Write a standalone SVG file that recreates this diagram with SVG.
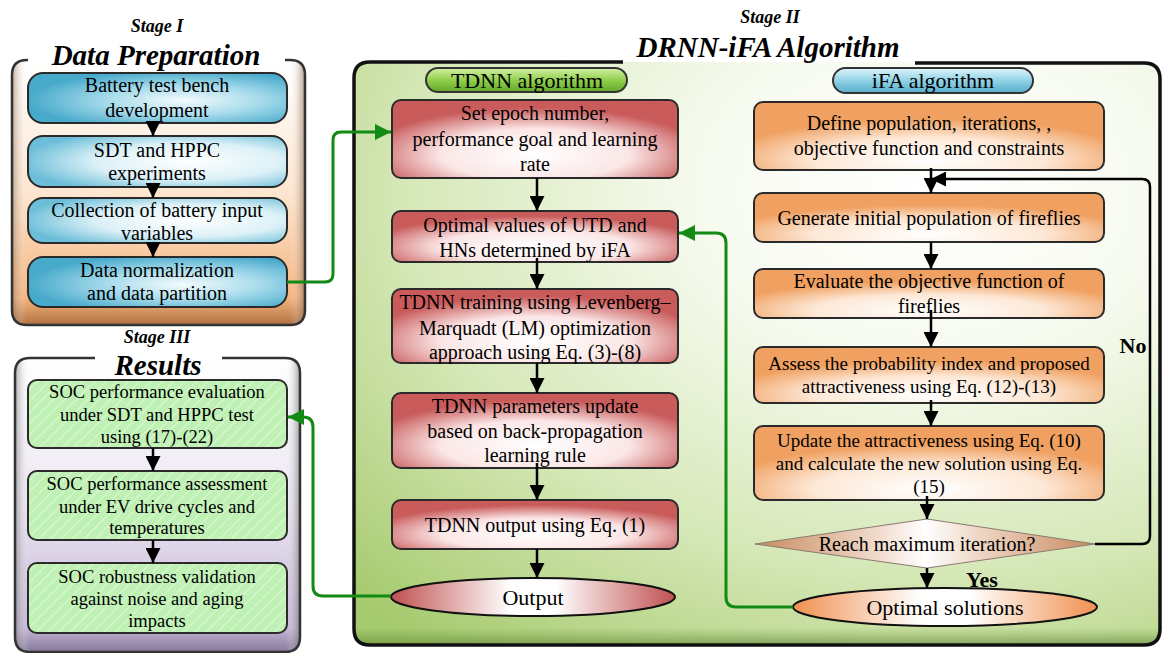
<svg xmlns="http://www.w3.org/2000/svg" width="1164" height="653" viewBox="0 0 1164 653">
<style>
text{font-family:"Liberation Serif","Times New Roman",serif;fill:#000;text-anchor:middle}
.t{font-size:20px}
.ts{font-size:19px}
.tr{font-size:18.5px}
.title{font-size:29px;font-weight:bold;font-style:italic}
.stage{font-size:18px;font-weight:bold;font-style:italic}
.pill{font-size:22px}
.yn{font-size:22px;font-weight:bold}
.box{stroke:#2a2a2a;stroke-width:2}
.arr{stroke:#000;stroke-width:2.5;fill:none;marker-end:url(#ah)}
.garr{stroke:#138a13;stroke-width:3;fill:none;marker-end:url(#gh)}
</style>
<defs>
<marker id="ah" viewBox="0 0 10 10" refX="10" refY="5" markerWidth="15" markerHeight="15" markerUnits="userSpaceOnUse" orient="auto"><path d="M0,0 L10,5 L0,10 z" fill="#000"/></marker>
<marker id="gh" viewBox="0 0 10 10" refX="10" refY="5" markerWidth="16" markerHeight="16" markerUnits="userSpaceOnUse" orient="auto"><path d="M0,0 L10,5 L0,10 z" fill="#138a13"/></marker>
<linearGradient id="s1fill" x1="0" y1="0" x2="0" y2="1"><stop offset="0" stop-color="#ffffff"/><stop offset="0.5" stop-color="#fde6d0"/><stop offset="0.9" stop-color="#f5b47e"/><stop offset="1" stop-color="#b07040"/></linearGradient>
<linearGradient id="s1side" x1="0" y1="0" x2="1" y2="0"><stop offset="0" stop-color="#8a6a50" stop-opacity="0.55"/><stop offset="0.05" stop-color="#ffffff" stop-opacity="0"/><stop offset="0.95" stop-color="#ffffff" stop-opacity="0"/><stop offset="1" stop-color="#7a5a40" stop-opacity="0.6"/></linearGradient>
<linearGradient id="s3fill" x1="0" y1="0" x2="0" y2="1"><stop offset="0" stop-color="#ffffff"/><stop offset="0.5" stop-color="#ece6f2"/><stop offset="0.92" stop-color="#c4b6d6"/><stop offset="1" stop-color="#857899"/></linearGradient>
<linearGradient id="s3side" x1="0" y1="0" x2="1" y2="0"><stop offset="0" stop-color="#777" stop-opacity="0.6"/><stop offset="0.05" stop-color="#fff" stop-opacity="0"/><stop offset="0.95" stop-color="#fff" stop-opacity="0"/><stop offset="1" stop-color="#666" stop-opacity="0.6"/></linearGradient>
<radialGradient id="s2fill" cx="0.72" cy="0.22" r="1"><stop offset="0" stop-color="#ffffff"/><stop offset="0.3" stop-color="#f6faee"/><stop offset="0.65" stop-color="#d6e8b8"/><stop offset="1" stop-color="#a6ca6e"/></radialGradient>
<linearGradient id="s2bot" x1="0" y1="0" x2="0" y2="1"><stop offset="0" stop-color="#6e9a40" stop-opacity="0"/><stop offset="0.97" stop-color="#6e9a40" stop-opacity="0"/><stop offset="1" stop-color="#5a8030" stop-opacity="0.6"/></linearGradient>
<radialGradient id="blueD" cx="0.6" cy="0.55" r="0.6"><stop offset="0" stop-color="#f4fbfd"/><stop offset="0.5" stop-color="#a6dbeb"/><stop offset="1" stop-color="#48aacb"/></radialGradient>
<radialGradient id="blueL" cx="0.62" cy="0.5" r="0.65"><stop offset="0" stop-color="#ffffff"/><stop offset="0.55" stop-color="#dcf1f7"/><stop offset="1" stop-color="#6cbed8"/></radialGradient>
<radialGradient id="red" cx="0.5" cy="0.7" r="0.6"><stop offset="0" stop-color="#ffffff"/><stop offset="0.55" stop-color="#fbe6e6"/><stop offset="1" stop-color="#c95b5b"/></radialGradient>
<radialGradient id="orange" cx="0.5" cy="0.85" r="0.6"><stop offset="0" stop-color="#ffffff"/><stop offset="0.55" stop-color="#fde8d6"/><stop offset="1" stop-color="#f0a060"/></radialGradient>
<linearGradient id="pillG" x1="0" y1="0" x2="0" y2="1"><stop offset="0" stop-color="#d4f0a8"/><stop offset="0.5" stop-color="#92d04c"/><stop offset="1" stop-color="#62a82c"/></linearGradient>
<linearGradient id="pillB" x1="0" y1="0" x2="0" y2="1"><stop offset="0" stop-color="#e0f5fb"/><stop offset="0.5" stop-color="#92d2e6"/><stop offset="1" stop-color="#55aecb"/></linearGradient>
<linearGradient id="outR" x1="0" y1="0" x2="1" y2="0"><stop offset="0" stop-color="#c05050"/><stop offset="0.42" stop-color="#ffffff"/><stop offset="0.58" stop-color="#ffffff"/><stop offset="1" stop-color="#c05050"/></linearGradient>
<linearGradient id="outO" x1="0" y1="0" x2="1" y2="0"><stop offset="0" stop-color="#f09050"/><stop offset="0.42" stop-color="#ffffff"/><stop offset="0.58" stop-color="#ffffff"/><stop offset="1" stop-color="#f09050"/></linearGradient>
<linearGradient id="dia" x1="0" y1="0" x2="1" y2="0"><stop offset="0" stop-color="#c88a60"/><stop offset="0.35" stop-color="#efd8c8"/><stop offset="0.5" stop-color="#ffffff"/><stop offset="0.65" stop-color="#efd8c8"/><stop offset="1" stop-color="#c88a60"/></linearGradient>
<pattern id="hatch" width="8" height="8" patternUnits="userSpaceOnUse" patternTransform="rotate(45)"><rect width="8" height="8" fill="#bff0b4"/><line x1="0" y1="0" x2="0" y2="8" stroke="#dcf8d6" stroke-width="2"/></pattern>
</defs>

<!-- Stage I frame -->
<g id="stage1">
<rect x="12" y="60" width="293" height="265" rx="15" fill="url(#s1fill)"/>
<rect x="12" y="60" width="293" height="265" rx="15" fill="url(#s1side)"/>
<path d="M28,60 H27 Q12,60 12,75 V310 Q12,325 27,325 H290 Q305,325 305,310 V75 Q305,60 290,60 H285" fill="none" stroke="#333" stroke-width="2.5"/>
<text class="stage" x="157" y="32">Stage I</text>
<text class="title" x="156" y="65">Data Preparation</text>
</g>

<!-- Stage III frame -->
<g id="stage3">
<rect x="15" y="358" width="285" height="294" rx="15" fill="url(#s3fill)"/>
<rect x="15" y="358" width="285" height="294" rx="15" fill="url(#s3side)"/>
<path d="M95,358 H30 Q15,358 15,373 V637 Q15,652 30,652 H285 Q300,652 300,637 V373 Q300,358 285,358 H222" fill="none" stroke="#333" stroke-width="2.5"/>
<text class="stage" x="157" y="343">Stage III</text>
<text class="title" x="158" y="375">Results</text>
</g>

<!-- Stage II frame -->
<g id="stage2">
<rect x="354" y="62" width="806" height="583" rx="16" fill="url(#s2fill)"/>
<rect x="354" y="62" width="806" height="583" rx="16" fill="url(#s2bot)"/>
<path d="M623,62 H370 Q354,62 354,78 V629 Q354,645 370,645 H1144 Q1160,645 1160,629 V79 Q1160,63 1144,63 H915" fill="none" stroke="#111" stroke-width="3.5"/>
<text class="stage" x="770" y="23">Stage II</text>
<text class="title" x="768" y="57">DRNN-iFA Algorithm</text>
</g>

<!-- Stage I nodes -->
<g id="n-bench"><rect class="box" x="28" y="73" width="259" height="50" rx="15" fill="url(#blueD)"/><text class="t" x="157" y="92">Battery test bench</text><text class="t" x="157" y="117">development</text></g>
<g id="n-sdt"><rect class="box" x="28" y="136" width="259" height="51" rx="15" fill="url(#blueL)"/><text class="t" x="157" y="157">SDT and HPPC</text><text class="t" x="157" y="180">experiments</text></g>
<g id="n-collect"><rect class="box" x="28" y="198" width="259" height="45" rx="15" fill="url(#blueL)"/><text class="t" x="157" y="217">Collection of battery input</text><text class="t" x="157" y="240">variables</text></g>
<g id="n-norm"><rect class="box" x="28" y="257" width="259" height="50" rx="15" fill="url(#blueD)"/><text class="t" x="157" y="277">Data normalization</text><text class="t" x="157" y="300">and data partition</text></g>

<!-- Stage III nodes -->
<g id="n-soc1"><rect class="box" x="28" y="380" width="259" height="68" rx="9" fill="url(#hatch)"/><text class="tr" x="157" y="398">SOC performance evaluation</text><text class="tr" x="157" y="421">under SDT and HPPC test</text><text class="tr" x="157" y="443">using (17)-(22)</text></g>
<g id="n-soc2"><rect class="box" x="28" y="471" width="259" height="69" rx="9" fill="url(#hatch)"/><text class="tr" x="157" y="490">SOC performance assessment</text><text class="tr" x="157" y="513">under EV drive cycles and</text><text class="tr" x="157" y="534">temperatures</text></g>
<g id="n-soc3"><rect class="box" x="28" y="563" width="259" height="70" rx="9" fill="url(#hatch)"/><text class="tr" x="157" y="583">SOC robustness validation</text><text class="tr" x="157" y="605">against noise and aging</text><text class="tr" x="157" y="627">impacts</text></g>

<!-- TDNN column -->
<g id="n-tdnn-label"><rect x="426" y="68" width="201" height="24" rx="12" fill="url(#pillG)" stroke="#333" stroke-width="2"/><text class="pill" x="527" y="88">TDNN algorithm</text></g>
<g id="n-epoch"><rect class="box" x="392" y="100" width="286" height="78" rx="9" fill="url(#red)"/><text class="t" x="535" y="120">Set epoch number,</text><text class="t" x="535" y="146">performance goal and learning</text><text class="t" x="535" y="171">rate</text></g>
<g id="n-utd"><rect class="box" x="392" y="211" width="286" height="51" rx="9" fill="url(#red)"/><text class="t" x="535" y="232">Optimal values of UTD and</text><text class="t" x="535" y="257">HNs determined by iFA</text></g>
<g id="n-train"><rect class="box" x="392" y="289" width="286" height="74" rx="9" fill="url(#red)"/><text class="t" x="535" y="309">TDNN training using Levenberg–</text><text class="t" x="535" y="335">Marquadt (LM) optimization</text><text class="t" x="535" y="359">approach using Eq. (3)-(8)</text></g>
<g id="n-update"><rect class="box" x="392" y="393" width="286" height="75" rx="9" fill="url(#red)"/><text class="t" x="535" y="413">TDNN parameters update</text><text class="t" x="535" y="438">based on back-propagation</text><text class="t" x="535" y="462">learning rule</text></g>
<g id="n-tout"><rect class="box" x="392" y="500" width="286" height="49" rx="9" fill="url(#red)"/><text class="t" x="535" y="532">TDNN output using Eq. (1)</text></g>
<g id="n-output"><ellipse cx="533" cy="597" rx="142" ry="19" fill="url(#outR)" stroke="#111" stroke-width="2"/><text class="pill" x="533" y="605">Output</text></g>

<!-- iFA column -->
<g id="n-ifa-label"><rect x="833" y="68" width="200" height="25" rx="12.5" fill="url(#pillB)" stroke="#333" stroke-width="2"/><text class="pill" x="933" y="88">iFA algorithm</text></g>
<g id="n-define"><rect class="box" x="754" y="102" width="350" height="68" rx="9" fill="url(#orange)"/><text class="t" x="929" y="130">Define population, iterations, ,</text><text class="t" x="929" y="155">objective function and constraints</text></g>
<g id="n-gen"><rect class="box" x="754" y="193" width="350" height="49" rx="9" fill="url(#orange)"/><text class="t" x="929" y="225">Generate initial population of fireflies</text></g>
<g id="n-eval"><rect class="box" x="754" y="269" width="350" height="49" rx="9" fill="url(#orange)"/><text class="t" x="929" y="288">Evaluate the objective function of</text><text class="t" x="929" y="313">fireflies</text></g>
<g id="n-assess"><rect class="box" x="754" y="347" width="350" height="56" rx="9" fill="url(#orange)"/><text class="ts" x="929" y="370">Assess the probability index and proposed</text><text class="ts" x="929" y="393">attractiveness using Eq. (12)-(13)</text></g>
<g id="n-upd"><rect class="box" x="754" y="426" width="350" height="74" rx="9" fill="url(#orange)"/><text class="ts" x="929" y="447">Update the attractiveness using Eq. (10)</text><text class="ts" x="929" y="470">and calculate the new solution using Eq.</text><text class="ts" x="929" y="493">(15)</text></g>
<g id="n-reach"><polygon points="927,519 1095,544 927,568 755,544" fill="url(#dia)" stroke="#8a7a70" stroke-width="1"/><text class="t" x="927" y="551">Reach maximum iteration?</text></g>
<g id="n-optimal"><ellipse cx="945" cy="607" rx="152" ry="19" fill="url(#outO)" stroke="#111" stroke-width="2"/><text class="pill" x="945" y="615">Optimal solutions</text></g>

<!-- connectors -->
<g id="connectors">
<line class="arr" x1="153" y1="123" x2="153" y2="136"/>
<line class="arr" x1="153" y1="187" x2="153" y2="198"/>
<line class="arr" x1="153" y1="243" x2="153" y2="257"/>
<line class="arr" x1="153" y1="448" x2="153" y2="471"/>
<line class="arr" x1="153" y1="540" x2="153" y2="563"/>
<line class="arr" x1="537" y1="178" x2="537" y2="211"/>
<line class="arr" x1="537" y1="258" x2="537" y2="289"/>
<line class="arr" x1="537" y1="363" x2="537" y2="393"/>
<line class="arr" x1="537" y1="463" x2="537" y2="500"/>
<line class="arr" x1="537" y1="549" x2="537" y2="578"/>
<line class="arr" x1="931" y1="168" x2="931" y2="193"/>
<line class="arr" x1="931" y1="242" x2="931" y2="269"/>
<line class="arr" x1="931" y1="310" x2="931" y2="347"/>
<line class="arr" x1="931" y1="400" x2="931" y2="426"/>
<line class="arr" x1="927" y1="496" x2="927" y2="519"/>
<line class="arr" x1="927" y1="568" x2="927" y2="588"/>
<path class="arr" d="M1095,544 H1142 Q1150,544 1150,536 V187 Q1150,179 1142,179 H931"/>
<path class="garr" d="M287,282 H325 Q333,282 333,274 V140 Q333,132 341,132 H391"/>
<path class="garr" d="M793,607 H736 Q726,607 726,597 V243 Q726,233 716,233 H679"/>
<path class="garr" d="M391,596 H323 Q313,596 313,586 V427 Q313,417 303,417 H288"/>
<text class="yn" x="1133" y="353">No</text>
<text class="yn" x="982" y="587">Yes</text>
</g>
</svg>
